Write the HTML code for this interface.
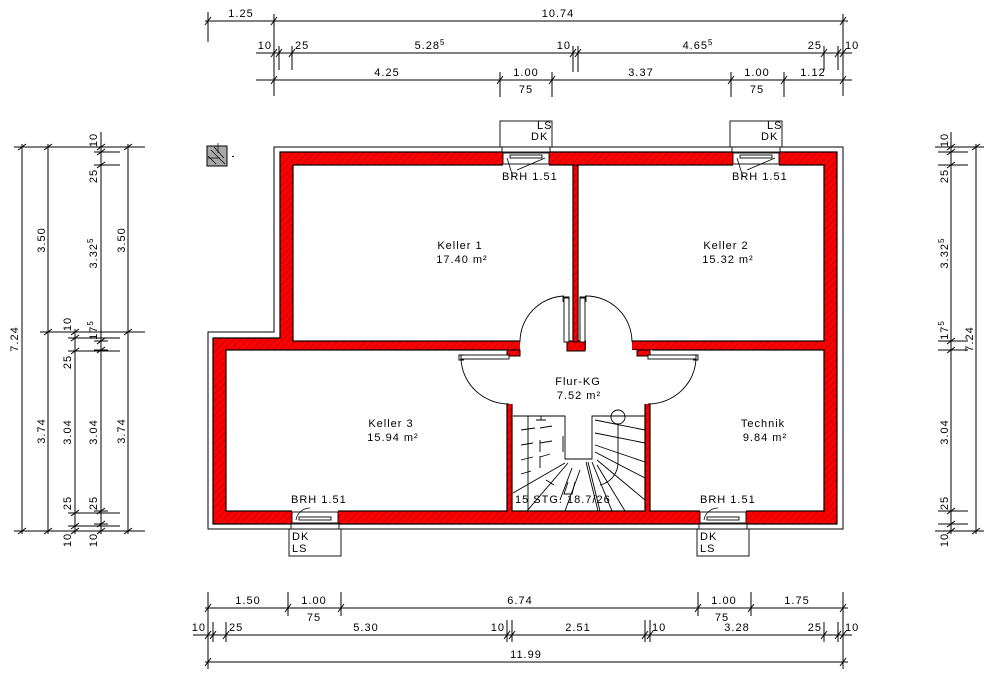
<!DOCTYPE html>
<html><head><meta charset="utf-8"><style>
html,body{margin:0;padding:0;background:#fff}
svg{display:block}
text{font-family:"Liberation Sans",sans-serif;font-size:11px;letter-spacing:1px;fill:#000}
.s{font-size:7px;letter-spacing:1.5px}
.m{text-anchor:middle}.e{text-anchor:end}
</style></head><body>
<svg width="1000" height="679" viewBox="0 0 1000 679" xmlns="http://www.w3.org/2000/svg">
<defs>
<pattern id="h" width="5" height="5" patternUnits="userSpaceOnUse" patternTransform="rotate(45)">
<rect width="5" height="5" fill="#f00"/><line x1="0" y1="0" x2="0" y2="5" stroke="#600" stroke-width="0.8"/>
</pattern>
<g id="t" stroke="#000" stroke-width="1"><line x1="0" y1="-7" x2="0" y2="7"/><line x1="-3" y1="4" x2="3" y2="-4"/></g>
<g id="v" stroke="#000" stroke-width="1"><line x1="-7" y1="0" x2="7" y2="0"/><line x1="-4" y1="3" x2="4" y2="-3"/></g>
</defs>
<g stroke="#000" fill="none" stroke-width="1">
<path d="M274,147 H843 V529 H208 V332 H274 Z"/>
</g>
<path d="M280,152 H837 V524 H213 V338 H280 Z" fill="url(#h)" stroke="#000" stroke-width="1.2"/>
<g fill="#fff" stroke="#000" stroke-width="1.2">
<rect x="293" y="165" width="280" height="176"/>
<rect x="578" y="165" width="246" height="176"/>
<rect x="226" y="350" width="281" height="161"/>
<rect x="650" y="350" width="174" height="161"/>
<rect x="512" y="350" width="133" height="161"/>
</g>
<g fill="#fff" stroke="none">
<rect x="520" y="340" width="47" height="12"/>
<rect x="586" y="340" width="46" height="12"/>
<rect x="506" y="350" width="146" height="8"/>
<rect x="505" y="357" width="9" height="47"/>
<rect x="643" y="357" width="9" height="47"/>
<rect x="503" y="151" width="46" height="15"/>
<rect x="733" y="151" width="46" height="15"/>
<rect x="292" y="510" width="46" height="15"/>
<rect x="700" y="510" width="46" height="15"/>
</g>
<g fill="url(#h)" stroke="#000" stroke-width="1">
<rect x="567" y="341" width="18" height="10"/>
<rect x="573" y="165" width="5" height="177"/>
<rect x="507" y="350" width="13" height="6"/>
<rect x="637" y="350" width="13" height="6"/>
</g>
<g stroke="#000" fill="none" stroke-width="0.9">
<rect x="564" y="298" width="5" height="44" fill="#fff"/>
<rect x="580" y="298" width="5" height="44" fill="#fff"/>
<path d="M564,296 A46,46 0 0 0 520,342"/>
<path d="M585,296 A46,46 0 0 1 632,342"/>
<rect x="461" y="355" width="48" height="4" fill="#fff"/>
<rect x="648" y="355" width="48" height="4" fill="#fff"/>
<path d="M461,358 A48,47 0 0 0 509,404"/>
<path d="M696,358 A48,47 0 0 1 648,404"/>
<path d="M563,302 v-5 h6 v4 M586,302 v-5 h-6 v4 M464,360 h-5 v-5 h6 M693,360 h5 v-5 h-6"/>
</g>
<g stroke="#000" fill="none" stroke-width="0.9">
<path d="M513,416 H565 V459 H592 V416 H645"/>
<circle cx="618" cy="417" r="7"/>
<path d="M618,424 V462 A23,23 0 0 1 600,485"/>
<path d="M595,420 L645,430 M595,433 L645,443 M595,445 L645,462 M595,452 L645,478 M597,460 L645,500 M597,465 L625,511 M592,462 L612,511 M588,462 L600,511 M586,462 L598,511"/>
<path d="M565,463 L513,493 M568,463 L527,511 M572,468 L560,500 M580,470 L565,511 M528,416 V511"/>
<path d="M521,430 l14,-2 M540,428 l12,-2 M521,445 l12,-2 M540,443 l12,-2 M521,460 l12,-3 M540,457 l10,-3 M521,474 l10,-3 M540,440 v12 M540,456 v12 M563,436 v16 M536,420 h10 M541,420 l0,-4"/>
<path d="M546,480 l8,5 M568,482 l-4,12 h8 l3,-12"/>
</g>
<text x="515" y="503">15 STG. 18.7/26</text>
<g stroke="#000" fill="#fff" stroke-width="0.9">
<rect x="500" y="121" width="52" height="26"/>
<rect x="730" y="121" width="52" height="26"/>
<rect x="289" y="529" width="52" height="27"/>
<rect x="697" y="529" width="52" height="27"/>
<rect x="502" y="147" width="48" height="5"/><rect x="503" y="153" width="46" height="11"/><rect x="510" y="155" width="32" height="3"/>
<rect x="732" y="147" width="48" height="5"/><rect x="733" y="153" width="46" height="11"/><rect x="740" y="155" width="32" height="3"/>
<rect x="291" y="524" width="48" height="5"/><rect x="292" y="512" width="46" height="11"/><rect x="299" y="517" width="32" height="3"/>
<rect x="699" y="524" width="48" height="5"/><rect x="700" y="512" width="46" height="11"/><rect x="707" y="517" width="32" height="3"/>
</g>
<g stroke="#000" fill="none" stroke-width="0.8">
<path d="M507,158 L513,177 M517,170 L545,158 M737,158 L743,177 M747,170 L775,158"/>
<path d="M296,520 A14,14 0 0 1 310,508 M704,520 A14,14 0 0 1 718,508"/>
</g>
<g class="s">
<text x="537" y="129">LS</text><text x="531" y="140">DK</text><text x="502" y="180">BRH 1.51</text>
<text x="767" y="129">LS</text><text x="761" y="140">DK</text><text x="732" y="180">BRH 1.51</text>
<text x="292" y="540">DK</text><text x="292" y="552">LS</text><text x="291" y="503">BRH 1.51</text>
<text x="700" y="540">DK</text><text x="700" y="552">LS</text><text x="700" y="503">BRH 1.51</text>
</g>
<rect x="207" y="146" width="20" height="20" fill="#a8a8a8" stroke="#000"/>
<path d="M211,150 L225,164 M208,156 L216,164 M214,147 L224,158 M208,158 h12 M218,143 v10" stroke="#000" stroke-width="0.7" fill="none"/>
<rect x="232" y="156" width="2" height="1" fill="#000"/>
<text class="m" x="460" y="249">Keller 1</text><text class="m" x="462" y="263">17.40 m²</text>
<text class="m" x="726" y="249">Keller 2</text><text class="m" x="728" y="263">15.32 m²</text>
<text class="m" x="578" y="385">Flur-KG</text><text class="m" x="579" y="399">7.52 m²</text>
<text class="m" x="391" y="427">Keller 3</text><text class="m" x="393" y="441">15.94 m²</text>
<text class="m" x="763" y="427">Technik</text><text class="m" x="765" y="441">9.84 m²</text>
<g stroke="#000" stroke-width="1">
<line x1="205" y1="21" x2="848" y2="21"/><line x1="256" y1="53" x2="852" y2="53"/><line x1="256" y1="80" x2="852" y2="80"/>
<line x1="208" y1="12" x2="208" y2="42"/><line x1="274" y1="14" x2="274" y2="96"/><line x1="843" y1="14" x2="843" y2="96"/>
<line x1="279" y1="50" x2="279" y2="70"/><line x1="292" y1="50" x2="292" y2="70"/><line x1="573" y1="50" x2="573" y2="72"/><line x1="578" y1="50" x2="578" y2="72"/><line x1="824" y1="50" x2="824" y2="70"/><line x1="838" y1="50" x2="838" y2="70"/>
<line x1="500" y1="72" x2="500" y2="97"/><line x1="552" y1="72" x2="552" y2="97"/><line x1="731" y1="72" x2="731" y2="97"/><line x1="784" y1="72" x2="784" y2="97"/>
<line x1="205" y1="608" x2="848" y2="608"/><line x1="193" y1="635" x2="852" y2="635"/><line x1="205" y1="662" x2="848" y2="662"/>
<line x1="208" y1="592" x2="208" y2="668"/><line x1="843" y1="592" x2="843" y2="668"/>
<line x1="288" y1="592" x2="288" y2="616"/><line x1="341" y1="592" x2="341" y2="616"/><line x1="698" y1="592" x2="698" y2="616"/><line x1="751" y1="592" x2="751" y2="616"/>
<line x1="213" y1="622" x2="213" y2="641"/><line x1="226" y1="622" x2="226" y2="641"/><line x1="507" y1="620" x2="507" y2="641"/><line x1="512" y1="620" x2="512" y2="641"/><line x1="645" y1="620" x2="645" y2="641"/><line x1="650" y1="620" x2="650" y2="641"/><line x1="824" y1="622" x2="824" y2="641"/><line x1="838" y1="622" x2="838" y2="641"/>
<line x1="22" y1="144" x2="22" y2="534"/><line x1="48" y1="144" x2="48" y2="534"/><line x1="75" y1="329" x2="75" y2="534"/><line x1="101" y1="132" x2="101" y2="534"/><line x1="128" y1="144" x2="128" y2="534"/>
<line x1="14" y1="147" x2="145" y2="147"/><line x1="14" y1="531" x2="145" y2="531"/><line x1="40" y1="332" x2="145" y2="332"/>
<line x1="96" y1="152" x2="120" y2="152"/><line x1="96" y1="165" x2="120" y2="165"/><line x1="70" y1="338" x2="120" y2="338"/><line x1="70" y1="351" x2="120" y2="351"/><line x1="70" y1="513" x2="120" y2="513"/><line x1="70" y1="526" x2="120" y2="526"/>
<line x1="951" y1="132" x2="951" y2="534"/><line x1="976" y1="144" x2="976" y2="534"/>
<line x1="935" y1="147" x2="984" y2="147"/><line x1="935" y1="531" x2="984" y2="531"/>
<line x1="938" y1="152" x2="968" y2="152"/><line x1="938" y1="165" x2="968" y2="165"/><line x1="938" y1="341" x2="968" y2="341"/><line x1="938" y1="350" x2="968" y2="350"/><line x1="938" y1="511" x2="968" y2="511"/><line x1="938" y1="524" x2="968" y2="524"/>
</g>
<g>
<use href="#t" x="208" y="21"/><use href="#t" x="274" y="21"/><use href="#t" x="843" y="21"/>
<use href="#t" x="274" y="53"/><use href="#t" x="279" y="53"/><use href="#t" x="292" y="53"/><use href="#t" x="573" y="53"/><use href="#t" x="578" y="53"/><use href="#t" x="824" y="53"/><use href="#t" x="838" y="53"/><use href="#t" x="843" y="53"/>
<use href="#t" x="274" y="80"/><use href="#t" x="500" y="80"/><use href="#t" x="552" y="80"/><use href="#t" x="731" y="80"/><use href="#t" x="784" y="80"/><use href="#t" x="843" y="80"/>
<use href="#t" x="208" y="608"/><use href="#t" x="288" y="608"/><use href="#t" x="341" y="608"/><use href="#t" x="698" y="608"/><use href="#t" x="751" y="608"/><use href="#t" x="843" y="608"/>
<use href="#t" x="208" y="635"/><use href="#t" x="213" y="635"/><use href="#t" x="226" y="635"/><use href="#t" x="507" y="635"/><use href="#t" x="512" y="635"/><use href="#t" x="645" y="635"/><use href="#t" x="650" y="635"/><use href="#t" x="824" y="635"/><use href="#t" x="838" y="635"/><use href="#t" x="843" y="635"/>
<use href="#t" x="208" y="662"/><use href="#t" x="843" y="662"/>
<use href="#v" x="22" y="147"/><use href="#v" x="22" y="531"/>
<use href="#v" x="48" y="147"/><use href="#v" x="48" y="332"/><use href="#v" x="48" y="531"/>
<use href="#v" x="128" y="147"/><use href="#v" x="128" y="332"/><use href="#v" x="128" y="531"/>
<use href="#v" x="75" y="332"/><use href="#v" x="75" y="338"/><use href="#v" x="75" y="351"/><use href="#v" x="75" y="513"/><use href="#v" x="75" y="526"/><use href="#v" x="75" y="531"/>
<use href="#v" x="101" y="147"/><use href="#v" x="101" y="152"/><use href="#v" x="101" y="165"/><use href="#v" x="101" y="341"/><use href="#v" x="101" y="350"/><use href="#v" x="101" y="511"/><use href="#v" x="101" y="524"/><use href="#v" x="101" y="531"/>
<use href="#v" x="951" y="147"/><use href="#v" x="951" y="152"/><use href="#v" x="951" y="165"/><use href="#v" x="951" y="341"/><use href="#v" x="951" y="350"/><use href="#v" x="951" y="511"/><use href="#v" x="951" y="524"/><use href="#v" x="951" y="531"/>
<use href="#v" x="976" y="147"/><use href="#v" x="976" y="531"/>
</g>
<text class="m" x="241" y="17">1.25</text><text class="m" x="558" y="17">10.74</text>
<text class="e" x="272" y="49">10</text><text x="295" y="49">25</text><text class="m" x="430" y="49">5.28<tspan dy="-4" font-size="8">5</tspan></text><text class="e" x="571" y="49">10</text><text class="m" x="698" y="49">4.65<tspan dy="-4" font-size="8">5</tspan></text><text class="e" x="822" y="49">25</text><text x="845" y="49">10</text>
<text class="m" x="387" y="76">4.25</text><text class="m" x="526" y="76">1.00</text><text class="m" x="526" y="93">75</text><text class="m" x="641" y="76">3.37</text><text class="m" x="757" y="76">1.00</text><text class="m" x="757" y="93">75</text><text class="m" x="813" y="76">1.12</text>
<text class="m" x="248" y="604">1.50</text><text class="m" x="314" y="604">1.00</text><text class="m" x="314" y="621">75</text><text class="m" x="520" y="604">6.74</text><text class="m" x="724" y="604">1.00</text><text class="m" x="722" y="621">75</text><text class="m" x="797" y="604">1.75</text>
<text class="e" x="206" y="631">10</text><text x="229" y="631">25</text><text class="m" x="366" y="631">5.30</text><text class="e" x="505" y="631">10</text><text class="m" x="578" y="631">2.51</text><text x="652" y="631">10</text><text class="m" x="737" y="631">3.28</text><text class="e" x="822" y="631">25</text><text x="845" y="631">10</text>
<text class="m" x="526" y="658">11.99</text>
<g>
<text class="m" transform="translate(18,339) rotate(-90)">7.24</text>
<text class="m" transform="translate(45,240) rotate(-90)">3.50</text>
<text class="m" transform="translate(45,431) rotate(-90)">3.74</text>
<text class="m" transform="translate(125,240) rotate(-90)">3.50</text>
<text class="m" transform="translate(125,431) rotate(-90)">3.74</text>
<text class="m" transform="translate(71,324) rotate(-90)">10</text>
<text class="m" transform="translate(71,362) rotate(-90)">25</text>
<text class="m" transform="translate(71,432) rotate(-90)">3.04</text>
<text class="m" transform="translate(71,503) rotate(-90)">25</text>
<text class="m" transform="translate(71,540) rotate(-90)">10</text>
<text class="m" transform="translate(97,140) rotate(-90)">10</text>
<text class="m" transform="translate(97,176) rotate(-90)">25</text>
<text class="m" transform="translate(97,253) rotate(-90)">3.32<tspan dy="-4" font-size="8">5</tspan></text>
<text class="m" transform="translate(97,330) rotate(-90)">17<tspan dy="-4" font-size="8">5</tspan></text>
<text class="m" transform="translate(97,432) rotate(-90)">3.04</text>
<text class="m" transform="translate(97,503) rotate(-90)">25</text>
<text class="m" transform="translate(97,540) rotate(-90)">10</text>
<text class="m" transform="translate(948,140) rotate(-90)">10</text>
<text class="m" transform="translate(948,176) rotate(-90)">25</text>
<text class="m" transform="translate(948,253) rotate(-90)">3.32<tspan dy="-4" font-size="8">5</tspan></text>
<text class="m" transform="translate(948,330) rotate(-90)">17<tspan dy="-4" font-size="8">5</tspan></text>
<text class="m" transform="translate(948,432) rotate(-90)">3.04</text>
<text class="m" transform="translate(948,503) rotate(-90)">25</text>
<text class="m" transform="translate(948,540) rotate(-90)">10</text>
<text class="m" transform="translate(973,339) rotate(-90)">7.24</text>
</g>
</svg>
</body></html>
